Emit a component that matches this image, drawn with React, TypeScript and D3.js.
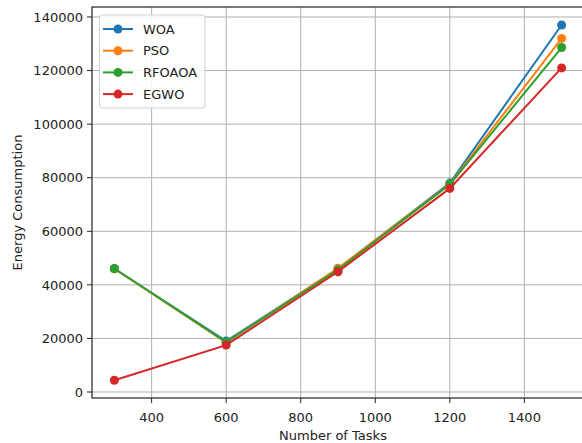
import React from "react";
import * as d3 from "d3";

const tasks = [300, 600, 900, 1200, 1500];
const woa = [46000, 19000, 46000, 78000, 137000];
const pso = [46000, 18500, 46200, 77600, 132000];
const rfoaoa = [46100, 18600, 45600, 77500, 128600];
const egwo = [4400, 17500, 44900, 76000, 121000];
const seriesNames = ["WOA", "PSO", "RFOAOA", "EGWO"];
const seriesColors = ["#1f77b4", "#ff7f0e", "#2ca02c", "#d62728"];
const xTicks = [400, 600, 800, 1000, 1200, 1400];
const yTicks = [0, 20000, 40000, 60000, 80000, 100000, 120000, 140000];

const W = 582;
const H = 443;
const left = 92;
const right = 584;
const top = 7;
const bottom = 398;
const font = "DejaVu Sans, sans-serif";

export default function App() {
  const allSeries = [woa, pso, rfoaoa, egwo];
  const x = d3.scaleLinear().domain([240, 1560]).range([left, right]);
  const y = d3.scaleLinear().domain([-2240, 143730]).range([bottom, top]);
  const line = d3
    .line<number>()
    .x((_, i) => x(tasks[i]))
    .y((d) => y(d));

  return (
    <svg
      width={W}
      height={H}
      style={{ position: "absolute", left: 0, top: 0, background: "#fff" }}
      fontFamily={font}
    >
      <rect x={0} y={0} width={W} height={H} fill="#fff" />
      <defs>
        <clipPath id="plot">
          <rect x={left} y={top} width={right - left} height={bottom - top} />
        </clipPath>
      </defs>
      {/* grid */}
      {xTicks.map((t) => (
        <line key={"gx" + t} x1={x(t)} x2={x(t)} y1={top} y2={bottom} stroke="#b0b0b0" strokeWidth={1} />
      ))}
      {yTicks.map((t) => (
        <line key={"gy" + t} x1={left} x2={right} y1={y(t)} y2={y(t)} stroke="#b0b0b0" strokeWidth={1} />
      ))}
      {/* series */}
      <g clipPath="url(#plot)">
        {allSeries.map((s, k) => (
          <g key={seriesNames[k]}>
            <path d={line(s) || ""} fill="none" stroke={seriesColors[k]} strokeWidth={2} />
            {s.map((v, i) => (
              <circle key={i} cx={x(tasks[i])} cy={y(v)} r={4.5} fill={seriesColors[k]} />
            ))}
          </g>
        ))}
      </g>
      {/* spines */}
      <rect x={left} y={top} width={right - left} height={bottom - top} fill="none" stroke="#222" strokeWidth={1.2} />
      {/* x ticks */}
      {xTicks.map((t) => (
        <g key={"xt" + t}>
          <line x1={x(t)} x2={x(t)} y1={bottom} y2={bottom + 5} stroke="#222" strokeWidth={1} />
          <text x={x(t)} y={422} textAnchor="middle" fontSize={13} fill="#222">
            {t}
          </text>
        </g>
      ))}
      {/* y ticks */}
      {yTicks.map((t) => (
        <g key={"yt" + t}>
          <line x1={left - 5} x2={left} y1={y(t)} y2={y(t)} stroke="#222" strokeWidth={1} />
          <text x={left - 9} y={y(t) + 4.7} textAnchor="end" fontSize={13} fill="#222">
            {t}
          </text>
        </g>
      ))}
      <text x={(left + right) / 2 - 5} y={440} textAnchor="middle" fontSize={13} fill="#222">
        Number of Tasks
      </text>
      <text
        transform={`translate(22, ${(top + bottom) / 2}) rotate(-90)`}
        textAnchor="middle"
        fontSize={13}
        fill="#222"
      >
        Energy Consumption
      </text>
      {/* legend */}
      <rect x={99.5} y={15} width={105.5} height={93} rx={3} fill="#fff" fillOpacity={0.85} stroke="#d0d0d0" strokeWidth={1} />
      {seriesNames.map((n, k) => {
        const ly = 29 + k * 21.7;
        return (
          <g key={"lg" + n}>
            <line x1={103} x2={133} y1={ly} y2={ly} stroke={seriesColors[k]} strokeWidth={2} />
            <circle cx={118} cy={ly} r={4.5} fill={seriesColors[k]} />
            <text x={143} y={ly + 4.7} fontSize={13} fill="#222">
              {n}
            </text>
          </g>
        );
      })}
    </svg>
  );
}
